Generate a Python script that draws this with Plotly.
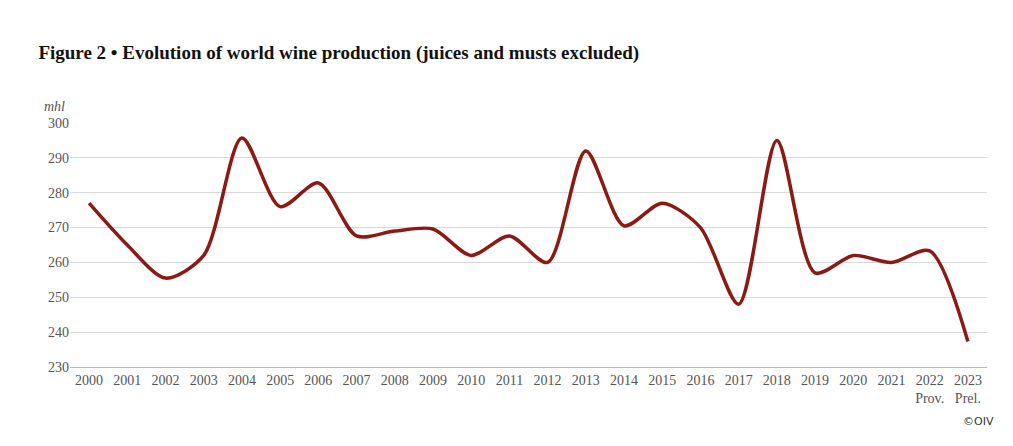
import plotly.graph_objects as go

years = [str(y) for y in range(2000, 2024)]
tick_labels = years[:-2] + ["2022<br>Prov.", "2023<br>Prel."]
production = [277, 265, 255.5, 262, 295.7, 276, 282.8, 267.6, 269, 269.6, 262, 267.6,
              260, 292, 270.5, 277, 270, 248, 295, 257, 262, 260, 263.3, 237.3]

fig = go.Figure(go.Scatter(x=list(range(len(years))), y=production, mode="lines",
                           line=dict(color="#8B1A14", width=3.5, shape="spline", smoothing=0.8)))
font = "Liberation Serif, DejaVu Serif, serif"
fig.update_layout(
    width=1013, height=446, plot_bgcolor="white", paper_bgcolor="white",
    margin=dict(l=62, r=34, t=115, b=87, autoexpand=False), showlegend=False,
    font=dict(family=font, size=14, color="#555"),
    title=dict(text="<b>Figure 2 • Evolution of world wine production (juices and musts excluded)</b>",
               x=0.03, xanchor="left", y=0.9, yanchor="middle", font=dict(size=19, color="#111", family=font)),
    xaxis=dict(tickvals=list(range(len(years))), ticktext=tick_labels, range=[-0.5, 23.5],
               showgrid=False, zeroline=False, showline=True, linecolor="#bbb", ticks="",
               automargin=False),
    yaxis=dict(range=[230, 300], dtick=10, gridcolor="#d9d9d9", zeroline=False, ticks="",
               showline=False, automargin=False),
    annotations=[
        dict(text="<i>mhl</i>", xref="paper", yref="paper", x=-0.03, y=1.03,
             xanchor="left", yanchor="bottom", showarrow=False, font=dict(size=14, color="#555")),
        dict(text="©OIV", xref="paper", yref="paper", x=1.01, y=-0.26, xanchor="right",
             showarrow=False, font=dict(size=11, color="#333", family="DejaVu Sans")),
    ],
)
fig.write_html("out.html")
